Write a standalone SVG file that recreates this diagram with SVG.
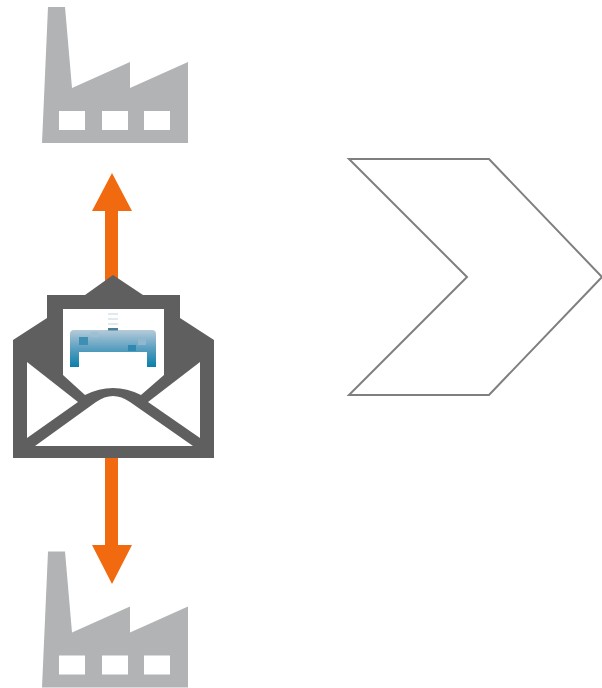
<svg xmlns="http://www.w3.org/2000/svg" width="602" height="688" viewBox="0 0 602 688">
<style>
.fac{fill:#b1b3b4}.win{fill:#fff}.arr{fill:#f26a0f}.env{fill:#5f5f5f}.wh{fill:#fff}
</style>
<defs>
<linearGradient id="bl" x1="0" y1="0" x2="0" y2="1"><stop offset="0" stop-color="#b5cbd9"/><stop offset="0.5" stop-color="#5a9fc0"/><stop offset="1" stop-color="#0a7fac"/></linearGradient>
<g id="factory">
<path class="fac" d="M48 7H65L72 88L130 62V88L188 62V143H42Z"/>
<rect class="win" x="59" y="111" width="26" height="19"/>
<rect class="win" x="102" y="111" width="26" height="19"/>
<rect class="win" x="144" y="111" width="26" height="19"/>
</g>
</defs>
<rect width="602" height="688" fill="#fff"/>
<g id="connectors">
<path class="arr" d="M105 283V211H92L112 173L132 211H118V283Z"/>
<path class="arr" d="M105 450V545H92L112 584L132 545H118V450Z"/>
</g>
<g id="factory-top"><use href="#factory"/></g>
<g id="factory-bottom"><use href="#factory" y="544.5"/></g>
<g id="envelope">
<path class="env" d="M113 275L143 295H180V318L214 340V458H13V340L47 318V295H85Z"/>
<path class="wh" d="M63 309H164V375L141 395Q127 388 113 388Q99 388 85 395L63 375Z"/>
<path class="wh" d="M27 362L78 402L27 438Z"/>
<path class="wh" d="M200 362L148 402L200 438Z"/>
<path class="wh" d="M35 446L96 402Q113 390 130 402L193 446Z"/>
<path d="M70 334Q70 330 74 330H152Q156 330 156 334V367H147V352H79V367H70Z" fill="url(#bl)"/>
<rect x="79" y="337" width="9" height="8" fill="#3f8fb4"/>
<rect x="128" y="345" width="8" height="6" fill="#2f88b0"/>
<rect x="138" y="337" width="8" height="8" fill="#8fb8cf"/>
<rect x="91" y="332" width="7" height="5" fill="#9dbfd3"/>
<rect x="108" y="328" width="10" height="2.500" fill="#4d7f99"/>
<path d="M108 314H118M108 319H118M108 324H118" stroke="#c5d3dc" stroke-width="1.200" fill="none"/>
</g>
<g id="chevron">
<path d="M349 159H489L602 277L489 395H349L467 277Z" fill="#fff" stroke="#7f7f7f" stroke-width="2"/>
</g>
</svg>
